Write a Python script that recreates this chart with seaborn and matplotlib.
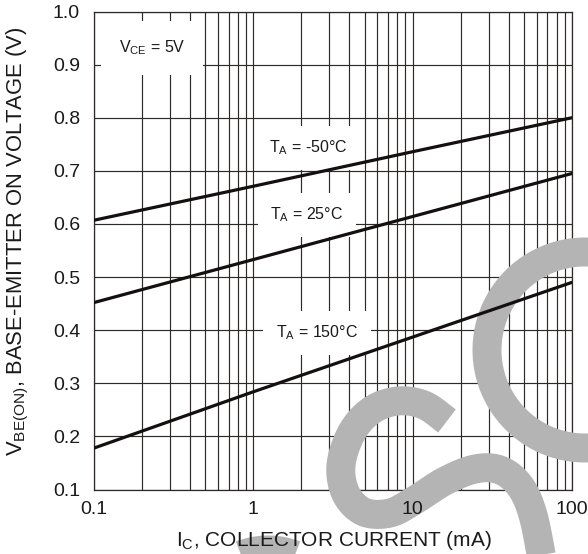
import numpy as np
import pandas as pd
import matplotlib
matplotlib.use("Agg")
import matplotlib.pyplot as plt
from matplotlib.path import Path
from matplotlib.patches import PathPatch
from matplotlib.transforms import Affine2D
from matplotlib.ticker import LogLocator, FixedLocator, NullFormatter, FixedFormatter
import seaborn as sns

# ---- data ----
collector_current_mA = [0.1, 1, 10, 100]
vbe_minus50 = [0.607, 0.671, 0.736, 0.800]
vbe_25 = [0.452, 0.533, 0.614, 0.695]
vbe_150 = [0.178, 0.284, 0.387, 0.490]
series_labels = ["T$_\\mathregular{A}$ = -50°C", "T$_\\mathregular{A}$ = 25°C", "T$_\\mathregular{A}$ = 150°C"]
x_tick_values = [0.1, 1, 10, 100]
x_tick_labels = ["0.1", "1", "10", "100"]
y_tick_values = [0.1, 0.2, 0.3, 0.4, 0.5, 0.6, 0.7, 0.8, 0.9, 1.0]
y_tick_labels = ["0.1", "0.2", "0.3", "0.4", "0.5", "0.6", "0.7", "0.8", "0.9", "1.0"]

df = pd.DataFrame({
    "Ic": collector_current_mA * 3,
    "Vbe": vbe_minus50 + vbe_25 + vbe_150,
    "series": [series_labels[0]] * 4 + [series_labels[1]] * 4 + [series_labels[2]] * 4,
})

sns.set_theme(style="white")
plt.rcParams["font.family"] = ["Liberation Sans", "DejaVu Sans"]
plt.rcParams["mathtext.fontset"] = "custom"
plt.rcParams["mathtext.rm"] = "Liberation Sans"
plt.rcParams["mathtext.it"] = "Liberation Sans"

W, H = 588, 554
fig = plt.figure(figsize=(W / 100, H / 100), dpi=100)
rect = [94 / W, 1 - 489.5 / H, (572 - 94) / W, (489.5 - 11.5) / H]
grid_col = "#2e2a28"


def setup_axes(a):
    a.set_xscale("log")
    a.set_xlim(0.1, 100)
    a.set_ylim(0.1, 1.0)
    a.xaxis.set_major_locator(FixedLocator(x_tick_values))
    a.xaxis.set_major_formatter(FixedFormatter(x_tick_labels))
    a.xaxis.set_minor_locator(LogLocator(base=10, subs=np.arange(2, 10)))
    a.xaxis.set_minor_formatter(NullFormatter())
    a.yaxis.set_major_locator(FixedLocator(y_tick_values))
    a.yaxis.set_major_formatter(FixedFormatter(y_tick_labels))
    a.tick_params(which="both", length=0)


# bottom layer: grid and frame
ax_grid = fig.add_axes(rect, zorder=0)
setup_axes(ax_grid)
ax_grid.set_facecolor("white")
ax_grid.grid(which="major", axis="both", color=grid_col, linewidth=0.85)
ax_grid.grid(which="minor", axis="x", color=grid_col, linewidth=0.85)
ax_grid.tick_params(labelbottom=False, labelleft=False)
for s in ax_grid.spines.values():
    s.set_color(grid_col)
    s.set_linewidth(0.9)

# top layer: curves, tick labels, annotations
ax = fig.add_axes(rect, zorder=2)
ax.set_facecolor("none")
setup_axes(ax)
ax.grid(False)
for s in ax.spines.values():
    s.set_visible(False)
ax.tick_params(axis="x", pad=8, labelsize=14, colors="#1a1a1a")
ax.tick_params(axis="y", pad=10, labelsize=14, colors="#1a1a1a")

sns.lineplot(data=df, x="Ic", y="Vbe", hue="series",
             palette=["#141010"] * 3, linewidth=2.3, legend=False, ax=ax, zorder=2)
ax.set_xlim(0.1, 100)
ax.set_ylim(0.1, 1.0)
ax.set_xlabel("")
ax.set_ylabel("")

# ---- annotation labels with white boxes ----
box = dict(boxstyle="square,pad=0.8", facecolor="white", edgecolor="none")
ax.text(0.231, 0.931, "V$_\\mathregular{CE}$ = 5V", ha="center", va="center",
        fontsize=11.5, color="#1a1a1a",
        bbox=dict(boxstyle="square,pad=1.1", facecolor="white", edgecolor="none"), zorder=1.9)
ax.text(2.20, 0.743, series_labels[0], ha="center", va="center", fontsize=11.5,
        color="#1a1a1a", bbox=box, zorder=1.9)
ax.text(2.17, 0.617, series_labels[1], ha="center", va="center", fontsize=11.5,
        color="#1a1a1a", bbox=box, zorder=1.9)
ax.text(2.51, 0.395, series_labels[2], ha="center", va="center", fontsize=11.5,
        color="#1a1a1a", bbox=box, zorder=1.9)

# ---- axis titles ----
fig.text(334 / W, 1 - 541 / H, "I$_\\mathregular{C}$, COLLECTOR CURRENT (mA)",
         ha="center", va="center", fontsize=15, color="#1a1a1a", zorder=5)
fig.text(18 / W, 1 - 241 / H, "V$_\\mathregular{BE(ON)}$, BASE-EMITTER ON VOLTAGE (V)",
         ha="center", va="center", rotation=90, fontsize=15.8, color="#1a1a1a", zorder=5)

# ---- gray watermark (decoration, pixel coordinates), between the two layers ----
px = Affine2D().scale(1 / W, -1 / H).translate(0, 1) + fig.transFigure
wm_col = "#b4b4b4"
wm_lw = 29 * 72 / 100


def catmull(pts, n=24):
    pts = np.asarray(pts, float)
    p = np.vstack([pts[0], pts, pts[-1]])
    out = []
    for i in range(1, len(p) - 2):
        p0, p1, p2, p3 = p[i - 1], p[i], p[i + 1], p[i + 2]
        for t in np.linspace(0, 1, n, endpoint=False):
            t2, t3 = t * t, t * t * t
            out.append(0.5 * ((2 * p1) + (-p0 + p2) * t + (2 * p0 - 5 * p1 + 4 * p2 - p3) * t2
                              + (-p0 + 3 * p1 - 3 * p2 + p3) * t3))
    out.append(p[-2])
    return np.array(out)


def add_stroke(verts):
    patch = PathPatch(Path(verts), facecolor="none", edgecolor=wm_col, linewidth=wm_lw,
                      capstyle="butt", joinstyle="round", transform=px, zorder=1)
    fig.add_artist(patch)


# right "C" arc
th = np.linspace(np.deg2rad(-70), np.deg2rad(-290), 120)
add_stroke(np.column_stack([585 + 98 * np.cos(th), 350 + 98 * np.sin(th)]))
# central S
s_pts = [(447, 421), (424, 405), (398, 401), (372, 410), (352, 432), (341, 465), (346, 494),
         (364, 512), (390, 513), (415, 500), (445, 481), (475, 469), (500, 470), (520, 486),
         (533, 515), (543, 565)]
add_stroke(catmull(s_pts))
# lower-left hump
th2 = np.linspace(np.deg2rad(-160), np.deg2rad(-20), 60)
add_stroke(np.column_stack([268 + 75 * np.cos(th2), 625 + 75 * np.sin(th2)]))

fig.savefig("out.png", dpi=100, facecolor="white")
